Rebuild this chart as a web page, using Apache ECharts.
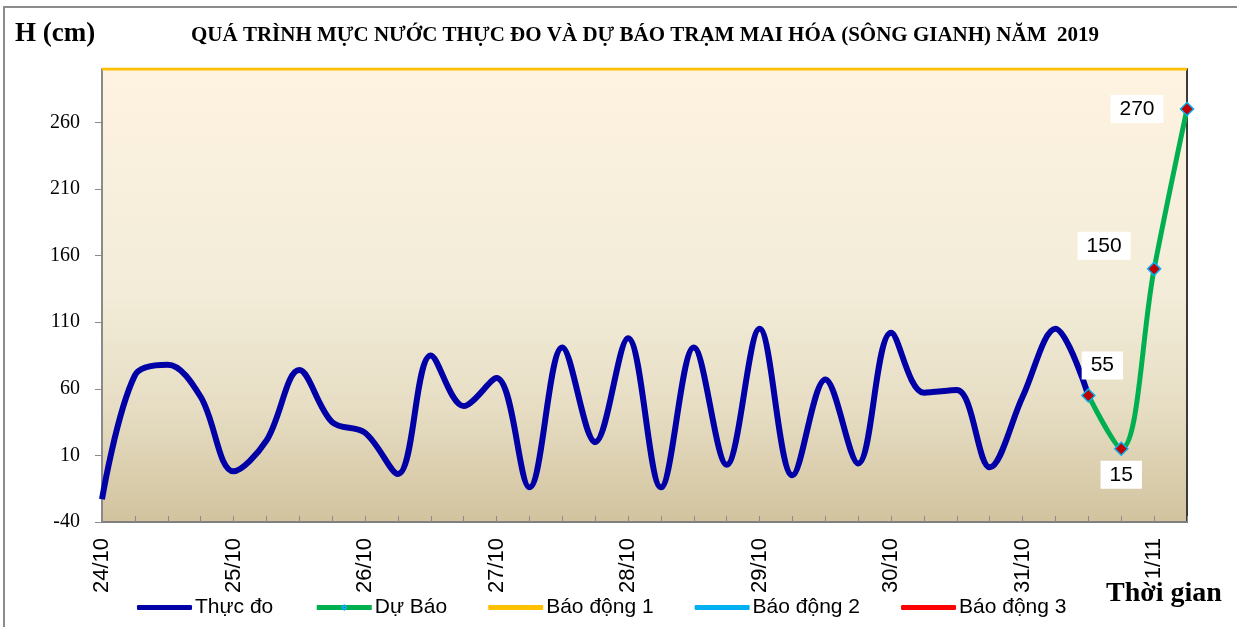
<!DOCTYPE html>
<html><head><meta charset="utf-8">
<script src="https://cdn.jsdelivr.net/npm/echarts@6/dist/echarts.min.js"></script>
<style>html,body{margin:0;padding:0;background:#fff}#c{width:1237px;height:627px}</style>
</head><body><div id="c"></div>
<script>
// Days shown on the time axis (each day split into 4 six-hour steps)
const days = ['24/10','25/10','26/10','27/10','28/10','29/10','30/10','31/10','1/11'];
const hours = ['0h','6h','12h','18h'];
// Observed water level (cm), 6-hourly, 24/10 0h -> 31/10 12h
const observed = [-23, 70, 78, 54, -2, 21, 74, 35, 27, -4, 85, 47, 68, -14, 91, 20, 98, -14, 91, 3, 105, -5, 67, 4, 102, 57, 59, 1, 54, 105, 55];
// Forecast (cm), 31/10 12h -> 1/11 6h
const forecast = [55, 15, 150, 270];
// Alarm levels (cm)
const alarm1 = 300, alarm2 = 450, alarm3 = 600;
const yTicks = {min: -40, max: 300, step: 50};

const categories = [];
days.forEach((d, i) => {
  hours.forEach((h, j) => {
    if (i < days.length - 1 || j <= 1) categories.push(d + ' ' + h);
  });
});
const obsData = categories.map((c, i) => i < observed.length ? observed[i] : '-');
const fStart = observed.length - 1;
const labelOffsets = [[14, -30], [0, 26], [-50, -23], [-50, 0]];
const fcData = categories.map((c, i) => {
  const k = i - fStart;
  if (k < 0 || k >= forecast.length) return '-';
  return {value: forecast[k], label: {show: true, offset: labelOffsets[k]}};
});
const a1 = categories.map(() => alarm1);
const a2 = categories.map(() => alarm2);
const a3 = categories.map(() => alarm3);

const SMOOTH = 0.35;
const chart = echarts.init(document.getElementById('c'), null, {renderer: 'canvas'});
chart.setOption({
  animation: false,
  backgroundColor: '#fff',
  grid: {left: 102, right: 50, top: 69, bottom: 105, show: true, borderWidth: 0,
    backgroundColor: new echarts.graphic.LinearGradient(0, 0, 0, 1, [
      {offset: 0, color: '#FEF3E0'}, {offset: 0.5, color: '#F2ECD8'},
      {offset: 0.75, color: '#E6DDC3'}, {offset: 1, color: '#D2C39E'}])},
  graphic: [
    {type: 'rect', shape: {x: 4, y: 7, width: 1300, height: 700}, style: {fill: 'none', stroke: '#8c8c8c', lineWidth: 2}, silent: true, z: -1},
    {type: 'text', left: 15, top: 21, style: {text: 'H (cm)', font: 'bold 27px "Liberation Serif", serif', fill: '#000'}},
    {type: 'text', left: 1106, top: 580, style: {text: 'Thời gian', font: 'bold 28px "Liberation Serif", serif', fill: '#000'}}
  ],
  title: {text: 'QUÁ TRÌNH MỰC NƯỚC THỰC ĐO VÀ DỰ BÁO TRẠM MAI HÓA (SÔNG GIANH) NĂM  2019',
    left: 640, textAlign: 'center', top: 20,
    textStyle: {fontFamily: '"Liberation Serif", serif', fontWeight: 'bold', fontSize: 21, color: '#000'}},
  legend: {
    left: 132, top: 592, itemWidth: 55, itemHeight: 5, itemGap: 41,
    textStyle: {fontFamily: '"Liberation Sans", Arial, sans-serif', fontSize: 21, color: '#000', padding: [0, 0, 0, -2]},
    data: [
      {name: 'Thực đo', icon: 'roundRect'},
      {name: 'Dự Báo', lineStyle: {width: 5}},
      {name: 'Báo động 1', icon: 'roundRect'},
      {name: 'Báo động 2', icon: 'roundRect'},
      {name: 'Báo động 3', icon: 'roundRect'}
    ]
  },
  xAxis: {
    type: 'category', data: categories, boundaryGap: false,
    axisLine: {onZero: false, lineStyle: {color: '#7f7f7f', width: 2}},
    axisTick: {show: true, inside: true, length: 6, interval: 0, lineStyle: {color: '#8a8a8a'}},
    axisLabel: {interval: 3, rotate: 90, margin: 16, color: '#000', fontSize: 22,
      fontFamily: '"Liberation Sans", Arial, sans-serif',
      formatter: v => v.split(' ')[0]},
    splitLine: {show: false}
  },
  yAxis: [{
    type: 'value', min: yTicks.min, max: yTicks.max, interval: yTicks.step,
    axisLine: {show: true, onZero: false, lineStyle: {color: '#8a8a8a', width: 2}},
    axisTick: {show: true, length: 7, lineStyle: {color: '#8a8a8a'}},
    axisLabel: {showMaxLabel: false, margin: 22, color: '#000', fontSize: 20,
      fontFamily: '"Liberation Serif", serif'},
    splitLine: {show: false}
  }, {
    type: 'value', position: 'right', min: yTicks.min, max: yTicks.max,
    axisLine: {show: true, onZero: false, lineStyle: {color: '#3a3a3a', width: 2}},
    axisTick: {show: false}, axisLabel: {show: false}, splitLine: {show: false}
  }],
  series: [
    {name: 'Thực đo', type: 'line', data: obsData, smooth: SMOOTH, showSymbol: false, symbol: 'none',
      lineStyle: {color: '#0000A6', width: 6}, itemStyle: {color: '#0000A6'}, z: 3},
    {name: 'Dự Báo', type: 'line', data: fcData, smooth: SMOOTH, symbol: 'diamond', symbolSize: 13,
      lineStyle: {color: '#00B050', width: 5},
      itemStyle: {color: '#C00000', borderColor: '#00B0F0', borderWidth: 1.5},
      label: {position: 'inside', color: '#000', fontSize: 21, fontFamily: '"Liberation Sans", Arial, sans-serif',
        backgroundColor: '#fff', padding: [4, 9, 3, 9]}, z: 4},
    {name: 'Báo động 1', type: 'line', data: a1, symbol: 'none', lineStyle: {color: '#FFC000', width: 3}, itemStyle: {color: '#FFC000'}, z: 2},
    {name: 'Báo động 2', type: 'line', data: a2, symbol: 'none', lineStyle: {color: '#00B0F0', width: 3}, itemStyle: {color: '#00B0F0'}, z: 2},
    {name: 'Báo động 3', type: 'line', data: a3, symbol: 'none', lineStyle: {color: '#FF0000', width: 3}, itemStyle: {color: '#FF0000'}, z: 2}
  ]
});
</script></body></html>
